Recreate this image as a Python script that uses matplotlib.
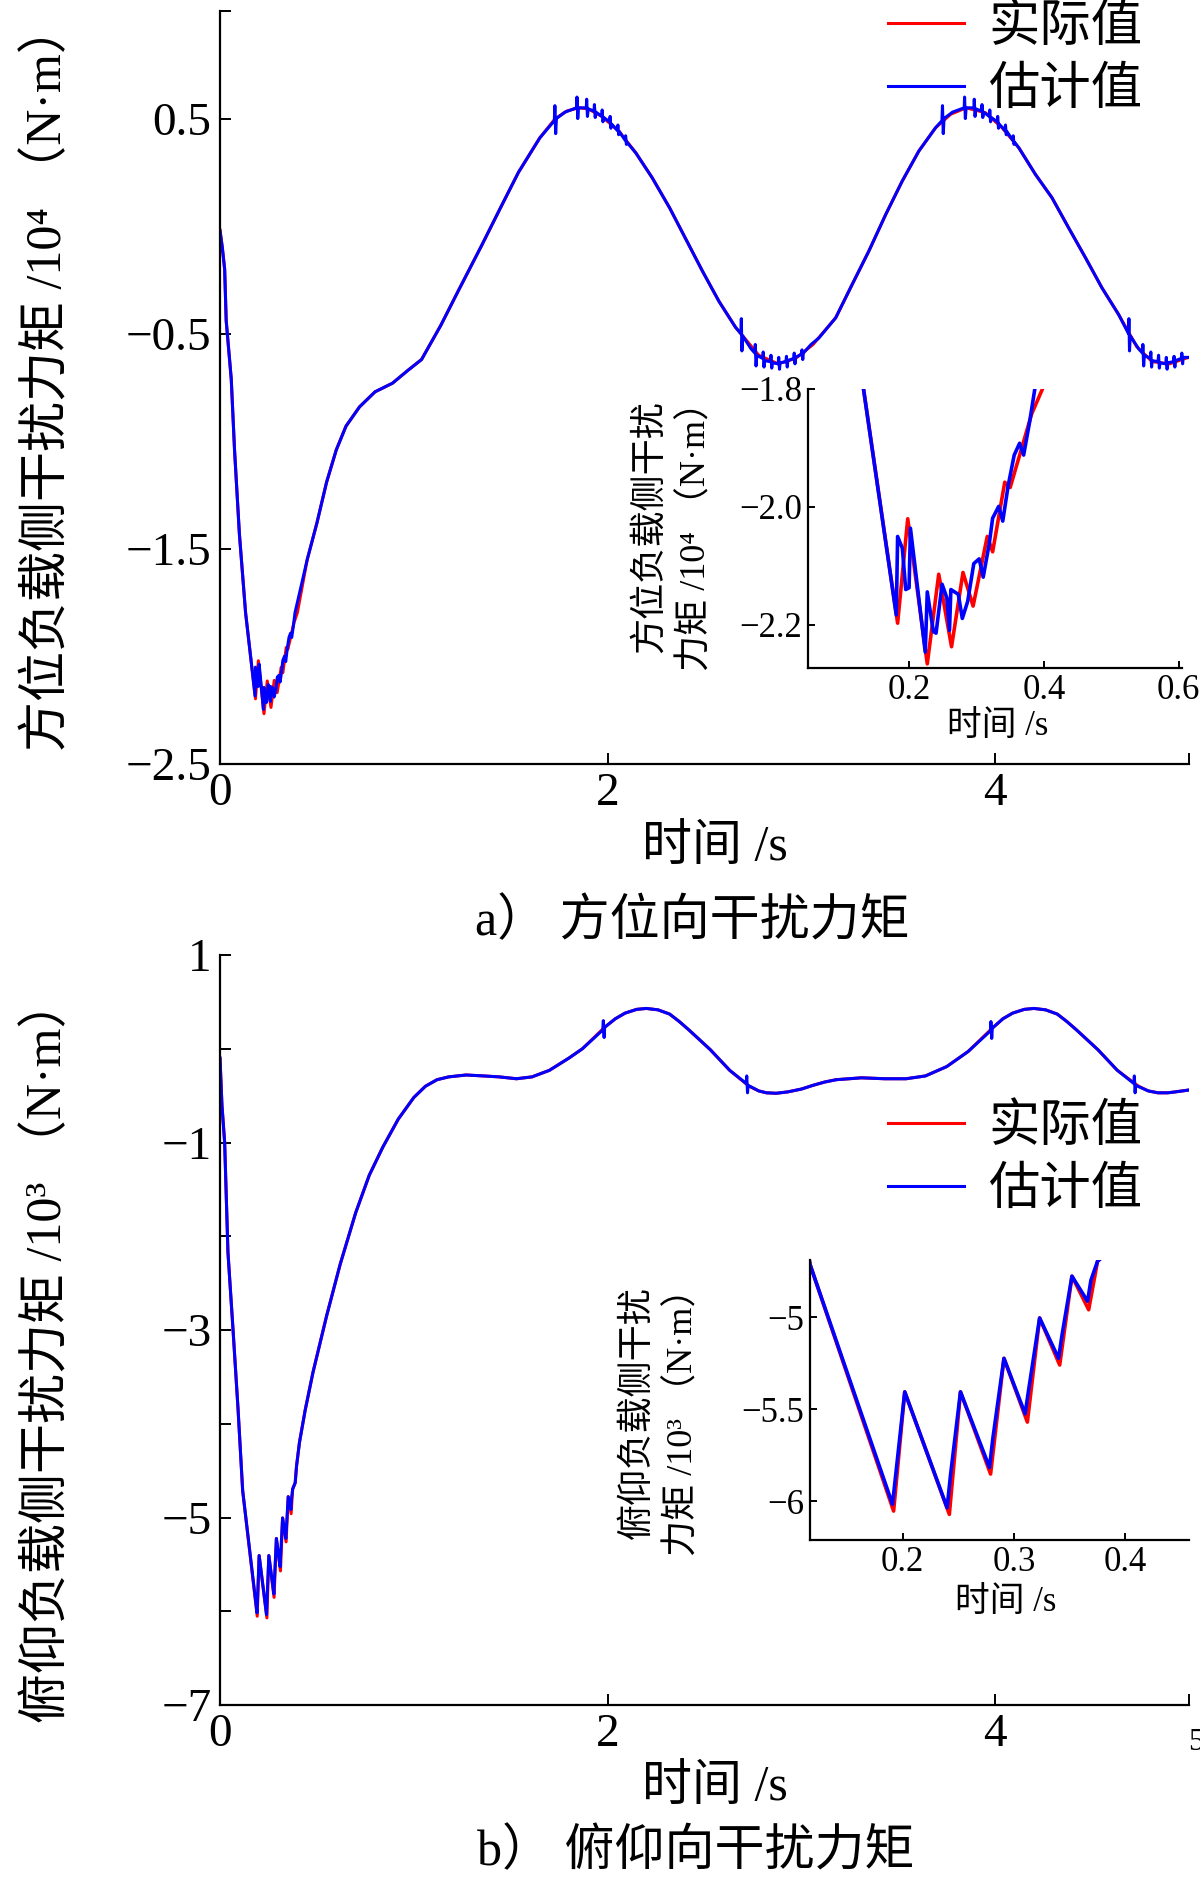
import matplotlib

matplotlib.use("Agg")
import matplotlib.pyplot as plt
from matplotlib.lines import Line2D

plt.rcParams["font.family"] = ["Liberation Serif", "Noto Sans CJK SC", "DejaVu Sans"]
plt.rcParams["axes.unicode_minus"] = True

# ---- a) azimuth disturbance torque (x10^4 N.m) ----
AZ_T_REAL = [
    0.000, 0.012, 0.024, 0.032, 0.058, 0.075, 0.100, 0.132, 0.183, 0.198,
    0.227, 0.244, 0.263, 0.280, 0.295, 0.316, 0.324, 0.342, 0.350, 0.382,
    0.399, 0.45, 0.50, 0.55, 0.60, 0.65, 0.72, 0.80, 0.89, 0.97,
    1.04, 1.14, 1.23, 1.35, 1.45, 1.54, 1.65, 1.73, 1.79, 1.85,
    1.90, 1.97, 2.06, 2.146, 2.23, 2.32, 2.40, 2.49, 2.575, 2.66,
    2.78, 2.88, 2.97, 3.06, 3.177, 3.262, 3.348, 3.435, 3.52, 3.606,
    3.692, 3.77, 3.85, 3.95, 4.036, 4.122, 4.208, 4.293, 4.379, 4.466,
    4.551, 4.637, 4.73, 4.81, 4.90, 4.98, 5.00,
]
AZ_REAL = [
    -0.02, -0.10, -0.20, -0.44, -0.71, -1.04, -1.43, -1.797, -2.197, -2.02,
    -2.266, -2.114, -2.237, -2.111, -2.168, -2.05, -2.076, -1.958, -1.967, -1.842,
    -1.797, -1.55, -1.38, -1.19, -1.04, -0.93, -0.84, -0.77, -0.73, -0.67,
    -0.62, -0.46, -0.30, -0.09, 0.09, 0.25, 0.41, 0.50, 0.535, 0.55,
    0.545, 0.51, 0.44, 0.34, 0.225, 0.085, -0.054, -0.21, -0.35, -0.47,
    -0.60, -0.64, -0.615, -0.55, -0.426, -0.271, -0.116, 0.054, 0.209, 0.349,
    0.457, 0.52, 0.55, 0.527, 0.457, 0.364, 0.24, 0.132, -0.008, -0.147,
    -0.287, -0.411, -0.56, -0.63, -0.64, -0.615, -0.61,
]
AZ_T_EST = [
    0.000, 0.012, 0.024, 0.032, 0.058, 0.075, 0.100, 0.132, 0.181, 0.183,
    0.190, 0.195, 0.200, 0.202, 0.224, 0.227, 0.236, 0.240, 0.249, 0.256,
    0.260, 0.262, 0.273, 0.279, 0.287, 0.296, 0.304, 0.310, 0.319, 0.324,
    0.333, 0.339, 0.347, 0.356, 0.364, 0.370, 0.379, 0.387, 0.45, 0.50,
    0.55, 0.60, 0.65, 0.72, 0.80, 0.89, 0.97, 1.04, 1.14, 1.23,
    1.35, 1.45, 1.54, 1.65, 1.725, 1.728, 1.732, 1.736, 1.78, 1.840,
    1.842, 1.846, 1.850, 1.890, 1.892, 1.896, 1.900, 1.930, 1.932, 1.936,
    1.940, 1.970, 1.972, 1.976, 1.980, 2.010, 2.013, 2.017, 2.020, 2.050,
    2.053, 2.057, 2.060, 2.090, 2.093, 2.097, 2.100, 2.146, 2.23, 2.32,
    2.40, 2.49, 2.575, 2.660, 2.688, 2.690, 2.693, 2.697, 2.740, 2.760,
    2.762, 2.766, 2.770, 2.800, 2.803, 2.807, 2.810, 2.840, 2.843, 2.847,
    2.850, 2.880, 2.883, 2.887, 2.890, 2.920, 2.923, 2.927, 2.930, 2.960,
    2.963, 2.967, 2.970, 3.000, 3.003, 3.007, 3.010, 3.050, 3.09, 3.177,
    3.262, 3.348, 3.435, 3.52, 3.606, 3.692, 3.725, 3.728, 3.732, 3.736,
    3.780, 3.840, 3.842, 3.846, 3.850, 3.890, 3.892, 3.896, 3.900, 3.930,
    3.932, 3.936, 3.940, 3.970, 3.972, 3.976, 3.980, 4.010, 4.013, 4.017,
    4.020, 4.050, 4.053, 4.057, 4.060, 4.090, 4.093, 4.097, 4.100, 4.122,
    4.208, 4.293, 4.379, 4.466, 4.551, 4.637, 4.688, 4.690, 4.693, 4.697,
    4.740, 4.760, 4.762, 4.766, 4.770, 4.800, 4.803, 4.807, 4.810, 4.840,
    4.843, 4.847, 4.850, 4.880, 4.883, 4.887, 4.890, 4.920, 4.923, 4.927,
    4.930, 4.960, 4.963, 4.967, 4.970, 5.000,
]
AZ_EST = [
    -0.02, -0.10, -0.20, -0.44, -0.71, -1.04, -1.43, -1.797, -2.183, -2.05,
    -2.07, -2.14, -2.137, -2.036, -2.246, -2.144, -2.211, -2.214, -2.131, -2.154,
    -2.209, -2.14, -2.148, -2.189, -2.16, -2.096, -2.088, -2.119, -2.062, -2.019,
    -1.999, -2.024, -1.964, -1.912, -1.892, -1.912, -1.855, -1.797, -1.55, -1.38,
    -1.19, -1.04, -0.93, -0.84, -0.77, -0.73, -0.67, -0.62, -0.46, -0.30,
    -0.09, 0.09, 0.25, 0.41, 0.49, 0.56, 0.43, 0.50, 0.53, 0.55,
    0.60, 0.50, 0.55, 0.55, 0.59, 0.51, 0.545, 0.535, 0.565, 0.505,
    0.53, 0.51, 0.54, 0.485, 0.505, 0.485, 0.51, 0.455, 0.475, 0.445,
    0.47, 0.425, 0.44, 0.40, 0.42, 0.38, 0.39, 0.34, 0.225, 0.085,
    -0.054, -0.21, -0.35, -0.47, -0.50, -0.43, -0.58, -0.51, -0.57, -0.59,
    -0.55, -0.65, -0.60, -0.615, -0.585, -0.655, -0.625, -0.63, -0.60, -0.66,
    -0.635, -0.64, -0.61, -0.665, -0.635, -0.63, -0.605, -0.655, -0.625, -0.615,
    -0.59, -0.64, -0.61, -0.595, -0.575, -0.62, -0.59, -0.55, -0.52, -0.426,
    -0.271, -0.116, 0.054, 0.209, 0.349, 0.457, 0.49, 0.56, 0.43, 0.50,
    0.53, 0.55, 0.60, 0.50, 0.55, 0.55, 0.59, 0.51, 0.545, 0.535,
    0.565, 0.505, 0.53, 0.51, 0.54, 0.485, 0.505, 0.485, 0.51, 0.455,
    0.475, 0.445, 0.47, 0.425, 0.44, 0.40, 0.42, 0.38, 0.39, 0.364,
    0.24, 0.132, -0.008, -0.147, -0.287, -0.411, -0.50, -0.43, -0.58, -0.51,
    -0.57, -0.59, -0.55, -0.65, -0.60, -0.615, -0.585, -0.655, -0.625, -0.63,
    -0.60, -0.66, -0.635, -0.64, -0.61, -0.665, -0.635, -0.63, -0.605, -0.655,
    -0.625, -0.615, -0.59, -0.64, -0.61, -0.61,
]

# ---- b) pitch disturbance torque (x10^3 N.m) ----
EL_T_REAL = [
    0.000, 0.010, 0.024, 0.041, 0.067, 0.093, 0.117, 0.192, 0.202, 0.242,
    0.252, 0.279, 0.291, 0.312, 0.323, 0.341, 0.352, 0.367, 0.375, 0.388,
    0.395, 0.41, 0.44, 0.48, 0.55, 0.62, 0.70, 0.77, 0.84, 0.92,
    1.00, 1.06, 1.12, 1.18, 1.27, 1.36, 1.44, 1.53, 1.61, 1.70,
    1.80, 1.87, 1.98, 2.04, 2.09, 2.15, 2.20, 2.26, 2.32, 2.37,
    2.42, 2.53, 2.63, 2.73, 2.78, 2.82, 2.87, 2.93, 3.00, 3.06,
    3.12, 3.18, 3.31, 3.43, 3.54, 3.64, 3.75, 3.86, 3.98, 4.04,
    4.09, 4.15, 4.20, 4.26, 4.32, 4.37, 4.42, 4.53, 4.63, 4.74,
    4.79, 4.84, 4.89, 4.93, 5.00,
]
EL_REAL = [
    -0.10, -0.60, -1.00, -2.17, -2.99, -3.84, -4.714, -6.053, -5.406, -6.071,
    -5.406, -5.852, -5.224, -5.57, -5.005, -5.26, -4.778, -4.96, -4.696, -4.63,
    -4.45, -4.20, -3.85, -3.45, -2.85, -2.30, -1.75, -1.35, -1.05, -0.75,
    -0.52, -0.40, -0.33, -0.30, -0.28, -0.29, -0.30, -0.32, -0.30, -0.23,
    -0.10, 0.00, 0.22, 0.32, 0.38, 0.42, 0.43, 0.415, 0.37, 0.29,
    0.20, -0.01, -0.23, -0.40, -0.45, -0.47, -0.475, -0.46, -0.43, -0.39,
    -0.355, -0.33, -0.31, -0.32, -0.32, -0.29, -0.19, -0.03, 0.21, 0.32,
    0.38, 0.42, 0.43, 0.415, 0.37, 0.29, 0.20, -0.01, -0.23, -0.40,
    -0.45, -0.47, -0.47, -0.46, -0.44,
]
EL_T_EST = [
    0.000, 0.010, 0.024, 0.041, 0.067, 0.093, 0.117, 0.191, 0.194, 0.202,
    0.240, 0.243, 0.252, 0.278, 0.281, 0.291, 0.310, 0.313, 0.323, 0.340,
    0.343, 0.352, 0.366, 0.369, 0.375, 0.388, 0.395, 0.41, 0.44, 0.48,
    0.55, 0.62, 0.70, 0.77, 0.84, 0.92, 1.00, 1.06, 1.12, 1.18,
    1.27, 1.36, 1.44, 1.53, 1.61, 1.70, 1.80, 1.87, 1.975, 1.978,
    1.982, 1.985, 2.04, 2.09, 2.15, 2.20, 2.26, 2.32, 2.37, 2.42,
    2.53, 2.63, 2.715, 2.718, 2.722, 2.725, 2.78, 2.82, 2.87, 2.93,
    3.00, 3.06, 3.12, 3.18, 3.31, 3.43, 3.54, 3.64, 3.75, 3.86,
    3.975, 3.978, 3.982, 3.985, 4.04, 4.09, 4.15, 4.20, 4.26, 4.32,
    4.37, 4.42, 4.53, 4.63, 4.715, 4.718, 4.722, 4.725, 4.79, 4.84,
    4.89, 4.93, 5.00,
]
EL_EST = [
    -0.10, -0.60, -1.00, -2.17, -2.99, -3.84, -4.714, -6.016, -5.85, -5.406,
    -6.035, -5.86, -5.406, -5.816, -5.66, -5.224, -5.525, -5.40, -5.005, -5.224,
    -5.10, -4.778, -4.914, -4.80, -4.696, -4.63, -4.45, -4.20, -3.85, -3.45,
    -2.85, -2.30, -1.75, -1.35, -1.05, -0.75, -0.52, -0.40, -0.33, -0.30,
    -0.28, -0.29, -0.30, -0.32, -0.30, -0.23, -0.10, 0.00, 0.20, 0.30,
    0.12, 0.23, 0.32, 0.38, 0.42, 0.43, 0.415, 0.37, 0.29, 0.20,
    -0.01, -0.23, -0.37, -0.29, -0.47, -0.39, -0.45, -0.47, -0.475, -0.46,
    -0.43, -0.39, -0.355, -0.33, -0.31, -0.32, -0.32, -0.29, -0.19, -0.03,
    0.19, 0.29, 0.11, 0.22, 0.32, 0.38, 0.42, 0.43, 0.415, 0.37,
    0.29, 0.20, -0.01, -0.23, -0.37, -0.29, -0.47, -0.39, -0.45, -0.47,
    -0.47, -0.46, -0.44,
]

LEGEND_LABELS = ["实际值", "估计值"]
MAIN_XTICKS = [0, 2, 4, 5]
MAIN_XLABELS = ["0", "2", "4", ""]
AZ_YTICKS = [-2.5, -1.5, -0.5, 0.5, 1.0]
AZ_YLABELS = ["\u22122.5", "\u22121.5", "\u22120.5", "0.5", ""]
EL_YTICKS = [-7, -6, -5, -4, -3, -2, -1, 0, 1]
EL_YLABELS = ["\u22127", "", "\u22125", "", "\u22123", "", "\u22121", "", "1"]
AZ_IN_XTICKS = [0.2, 0.4, 0.6]
AZ_IN_XLABELS = ["0.2", "0.4", "0.6"]
AZ_IN_YTICKS = [-2.2, -2.0, -1.8]
AZ_IN_YLABELS = ["\u22122.2", "\u22122.0", "\u22121.8"]
EL_IN_XTICKS = [0.2, 0.3, 0.4]
EL_IN_XLABELS = ["0.2", "0.3", "0.4"]
EL_IN_YTICKS = [-6.0, -5.5, -5.0]
EL_IN_YLABELS = ["\u22126", "\u22125.5", "\u22125"]

W, H = 1200, 1878
RED = "#ff0000"
BLUE = "#0000ff"


def rect(left, top, right, bottom):
    return [left / W, 1 - bottom / H, (right - left) / W, (bottom - top) / H]


def style(ax, labelsize, length, pad):
    ax.spines["top"].set_visible(False)
    ax.spines["right"].set_visible(False)
    for side in ("left", "bottom"):
        ax.spines[side].set_linewidth(1.6)
    ax.tick_params(direction="in", length=length, width=1.4,
                   labelsize=labelsize, pad=pad)
    ax.patch.set_alpha(0)


def draw(ax, t_real, real, t_est, est, lw):
    ax.plot(t_real, real, color=RED, lw=lw)
    ax.plot(t_est, est, color=BLUE, lw=lw)


def ftext(x, y, s, size, **kw):
    plt.gcf().text(x / W, 1 - y / H, s, fontsize=size, ha="center", va="center", **kw)


def main():
    fig = plt.figure(figsize=(W / 100, H / 100), dpi=100)

    # top main
    ax1 = fig.add_axes(rect(220, 11, 1189, 764))
    draw(ax1, AZ_T_REAL, AZ_REAL, AZ_T_EST, AZ_EST, 2.2)
    ax1.set_xlim(0, 5)
    ax1.set_ylim(-2.5, 1.0)
    ax1.set_xticks(MAIN_XTICKS, MAIN_XLABELS)
    ax1.set_yticks(AZ_YTICKS, AZ_YLABELS)
    style(ax1, 34, 8, 6)

    # bottom main
    ax2 = fig.add_axes(rect(220, 955, 1189, 1705))
    draw(ax2, EL_T_REAL, EL_REAL, EL_T_EST, EL_EST, 2.2)
    ax2.set_xlim(0, 5)
    ax2.set_ylim(-7, 1)
    ax2.set_xticks(MAIN_XTICKS, MAIN_XLABELS)
    ax2.set_yticks(EL_YTICKS, EL_YLABELS)
    style(ax2, 34, 8, 6)

    handles = [Line2D([], [], color=RED, lw=2.2), Line2D([], [], color=BLUE, lw=2.2)]
    for ypos in (4, 1104):
        fig.legend(handles, LEGEND_LABELS, loc="upper right",
                   bbox_to_anchor=(1142 / W, 1 - ypos / H), frameon=False,
                   fontsize=37, handlelength=1.47, handletextpad=0.47,
                   labelspacing=0.3, borderpad=0, borderaxespad=0)

    # top inset
    ax3 = fig.add_axes(rect(808, 389, 1182, 668))
    draw(ax3, AZ_T_REAL, AZ_REAL, AZ_T_EST, AZ_EST, 2.6)
    ax3.set_xlim(0.05, 0.605)
    ax3.set_ylim(-2.273, -1.8)
    ax3.set_xticks(AZ_IN_XTICKS, AZ_IN_XLABELS)
    ax3.set_yticks(AZ_IN_YTICKS, AZ_IN_YLABELS)
    style(ax3, 25, 5, 4)

    # bottom inset
    ax4 = fig.add_axes(rect(810, 1260, 1189, 1540))
    draw(ax4, EL_T_REAL, EL_REAL, EL_T_EST, EL_EST, 2.6)
    ax4.set_xlim(0.117, 0.457)
    ax4.set_ylim(-6.21, -4.69)
    ax4.set_xticks(EL_IN_XTICKS, EL_IN_XLABELS)
    ax4.set_yticks(EL_IN_YTICKS, EL_IN_YLABELS)
    style(ax4, 25, 5, 4)

    # axis titles and captions
    ftext(48, 377, "方位负载侧干扰力矩 /10\u2074 （N·m）", 36, rotation=90)
    ftext(48, 1350, "俯仰负载侧干扰力矩 /10\u00b3 （N·m）", 36, rotation=90)
    ftext(715, 848, "时间 /s", 36)
    ftext(715, 1788, "时间 /s", 36)
    ftext(692, 922, "a） 方位向干扰力矩", 36)
    ftext(696, 1852, "b） 俯仰向干扰力矩", 36)
    ftext(673, 527, "方位负载侧干扰\n力矩 /10\u2074 （N·m）", 26, rotation=90,
          linespacing=1.45)
    ftext(661, 1413, "俯仰负载侧干扰\n力矩 /10\u00b3 （N·m）", 26, rotation=90,
          linespacing=1.45)
    ftext(998, 727, "时间 /s", 25)
    ftext(1006, 1602, "时间 /s", 25)
    ftext(1196, 1742, "5", 22)

    fig.savefig("out.png", dpi=100)
    plt.close(fig)


if __name__ == "__main__":
    main()
